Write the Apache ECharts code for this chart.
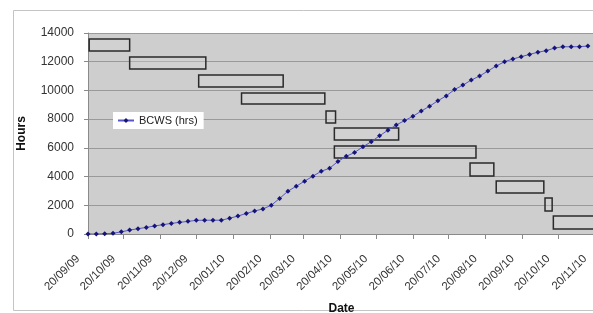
<!DOCTYPE html>
<html>
<head>
<meta charset="utf-8">
<script src="https://cdn.jsdelivr.net/npm/echarts@6/dist/echarts.min.js"></script>
<style>html,body{margin:0;padding:0;background:#fff;}#c{width:593px;height:313px;}</style>
</head>
<body>
<div id="c"></div>
<script>
// ---- data ----
const seriesName = 'BCWS (hrs)';
const firstWeek = [2009, 9, 20];            // weekly points start on 20/09/09
const bcwsHours = [
  0, 0, 20, 50, 150, 270, 370, 460, 560, 650,
  740, 810, 880, 950, 960, 960, 960, 1100, 1250, 1430,
  1600, 1750, 2000, 2480, 2980, 3330, 3680, 4030, 4370, 4580,
  5050, 5410, 5680, 6070, 6430, 6840, 7230, 7590, 7900, 8200,
  8560, 8900, 9280, 9620, 10060, 10370, 10720, 11000, 11350, 11700,
  12000, 12190, 12350, 12510, 12660, 12770, 12950, 13040, 13040, 13050,
  13090
];
const tickLabels = ['20/09/09','20/10/09','20/11/09','20/12/09','20/01/10','20/02/10','20/03/10',
  '20/04/10','20/05/10','20/06/10','20/07/10','20/08/10','20/09/10','20/10/10','20/11/10'];
const boxStart = ['2009-09-21','2009-10-25','2009-12-22','2010-01-27','2010-04-08','2010-04-15',
  '2010-04-15','2010-08-07','2010-08-29','2010-10-09','2010-10-16'];
const boxEnd   = ['2009-10-25','2009-12-28','2010-03-03','2010-04-07','2010-04-16','2010-06-08',
  '2010-08-12','2010-08-27','2010-10-08','2010-10-15','2010-12-31'];
const boxLow   = [12750, 11490, 10240, 9050, 7730, 6550, 5290, 4040, 2860, 1600, 350];
const boxHigh  = [13580, 12330, 11070, 9820, 8570, 7380, 6130, 4950, 3690, 2510, 1250];
const yTicks = [0, 2000, 4000, 6000, 8000, 10000, 12000, 14000];

// ---- helpers ----
function parseLabel(s) { const p = s.split('/'); return Date.UTC(2000 + +p[2], +p[1] - 1, +p[0]); }
function parseIso(s) { const p = s.split('-'); return Date.UTC(+p[0], +p[1] - 1, +p[2]); }
const tickTimes = tickLabels.map(parseLabel);
const lineData = bcwsHours.map((v, i) => [Date.UTC(firstWeek[0], firstWeek[1] - 1, firstWeek[2] + 7 * i), v]);
const boxData = boxStart.map((s, i) => [parseIso(s), parseIso(boxEnd[i]), boxLow[i], boxHigh[i]]);
function fmt(t) {
  const idx = tickTimes.indexOf(t);
  return idx >= 0 ? tickLabels[idx] : '';
}

const font = 'Liberation Sans, Arial, sans-serif';
const chart = echarts.init(document.getElementById('c'));
chart.setOption({
  animation: false,
  backgroundColor: '#fff',
  textStyle: { fontFamily: font },
  graphic: [{
    type: 'rect', z: -10,
    shape: { x: 13.5, y: 10.5, width: 620, height: 300 },
    style: { fill: 'none', stroke: '#c4c4c4', lineWidth: 1 }
  }],
  grid: {
    left: 88, right: -2, top: 33, bottom: 79,
    outerBoundsMode: 'none',
    containLabel: false,
    show: true, backgroundColor: '#cecece', borderWidth: 0
  },
  legend: {
    data: [seriesName],
    left: 113, top: 112,
    backgroundColor: '#ffffff',
    padding: [3, 6, 3, 4],
    itemWidth: 16, itemHeight: 6,
    textStyle: { fontSize: 11, color: '#222', fontFamily: font }
  },
  xAxis: {
    type: 'value',
    min: tickTimes[0],
    max: tickTimes[tickTimes.length - 1],
    name: 'Date',
    nameLocation: 'middle',
    nameGap: 69,
    nameTextStyle: { fontSize: 12, fontWeight: 'bold', color: '#111' },
    axisLine: { lineStyle: { color: '#8a8a8a', width: 1 } },
    axisTick: { show: true, length: 5, customValues: tickTimes, lineStyle: { color: '#8a8a8a' } },
    axisLabel: {
      customValues: tickTimes,
      rotate: 45, margin: 13, fontSize: 11.5, color: '#333',
      padding: [0, 14, 0, 0],
      formatter: v => fmt(v),
      showMinLabel: true, showMaxLabel: true, hideOverlap: false
    },
    splitLine: { show: false }
  },
  yAxis: {
    type: 'value',
    min: yTicks[0], max: yTicks[yTicks.length - 1], interval: 2000,
    name: 'Hours',
    nameLocation: 'middle',
    nameGap: 60,
    nameTextStyle: { fontSize: 12, fontWeight: 'bold', color: '#111' },
    axisLine: { show: true, lineStyle: { color: '#8a8a8a' } },
    axisTick: { show: true, length: 4, lineStyle: { color: '#8a8a8a' } },
    axisLabel: { fontSize: 12, color: '#333', margin: 14, formatter: v => String(v) },
    splitLine: { show: true, lineStyle: { color: '#9a9a9a', width: 1 } }
  },
  series: [
    {
      type: 'custom',
      clip: true,
      z: 2,
      data: boxData,
      encode: { x: [0, 1], y: [2, 3] },
      renderItem: function (params, api) {
        const p1 = api.coord([api.value(0), api.value(3)]);
        const p2 = api.coord([api.value(1), api.value(2)]);
        const shape = echarts.graphic.clipRectByRect(
          { x: p1[0], y: p1[1], width: p2[0] - p1[0], height: p2[1] - p1[1] },
          { x: params.coordSys.x, y: params.coordSys.y, width: params.coordSys.width + 20, height: params.coordSys.height }
        );
        return shape && {
          type: 'rect',
          shape: shape,
          style: { fill: 'rgba(215,215,215,0.35)', stroke: '#2a2a2a', lineWidth: 1.5 }
        };
      }
    },
    {
      name: seriesName,
      type: 'line',
      z: 3,
      data: lineData,
      symbol: 'diamond',
      symbolSize: 5,
      showSymbol: true,
      itemStyle: { color: '#14147a' },
      lineStyle: { color: '#5656c8', width: 1 }
    }
  ]
});
</script>
</body>
</html>
